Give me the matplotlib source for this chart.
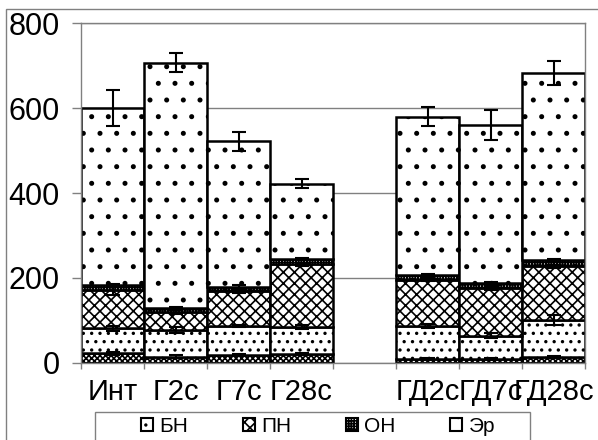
import numpy as np
import matplotlib
matplotlib.use("Agg")
import matplotlib.pyplot as plt
from matplotlib.patches import Patch, Rectangle

# Group labels; the empty slot separates the two series of groups
categories = ["Инт", "Г2с", "Г7с", "Г28с", "", "ГД2с", "ГД7с", "ГД28с"]
yticks = [0, 200, 400, 600, 800]

# Stacked layer heights (bottom to top) and their error bars
base_vals = [22, 14, 18, 20, np.nan, 9, 9, 13]
base_err = [4, 3, 3, 3, np.nan, 2, 2, 2]
bn_vals = [59, 63, 69, 65, np.nan, 78, 55, 87]
bn_err = [6, 6, 3, 5, np.nan, 5, 5, 12]
pn_vals = [90, 43, 82, 147, np.nan, 109, 112, 127]
pn_err = [12, 5, 4, 4, np.nan, 4, 4, 4]
on_vals = [12, 8, 10, 12, np.nan, 10, 11, 14]
on_err = [3, 3, 3, 3, np.nan, 3, 3, 3]
er_vals = [417, 579, 343, 178, np.nan, 374, 373, 442]
er_err = [42, 22, 22, 10, np.nan, 22, 35, 29]

layers = [
    (base_vals, base_err, "xxxxxx", None),
    (bn_vals, bn_err, "..", "БН"),
    (pn_vals, pn_err, "xxx", "ПН"),
    (on_vals, on_err, "++++++", "ОН"),
    (er_vals, er_err, ".", "Эр"),
]

plt.rcParams["font.family"] = ["Liberation Sans", "DejaVu Sans"]
plt.rcParams["hatch.linewidth"] = 1.2

W, H = 598, 440
GRAY = "#808080"

fig = plt.figure(figsize=(W / 100, H / 100), dpi=100)
ax = fig.add_axes([81 / W, 1 - 362.7 / H, (585 - 81) / W, (362.7 - 23.3) / H])

x = np.arange(len(categories))
bottom = np.zeros(len(categories))
handles = []
for vals, errs, hatch, label in layers:
    vals = np.array(vals, dtype=float)
    ax.bar(x, vals, width=1.0, bottom=bottom, color="white", edgecolor="black",
           linewidth=1.8, hatch=hatch, zorder=2)
    top = bottom + vals
    ax.errorbar(x, top, yerr=errs, fmt="none", ecolor="black", elinewidth=1.5,
                capsize=5, capthick=1.5, zorder=3)
    bottom = top
    if label:
        handles.append(Patch(facecolor="white", edgecolor="black", linewidth=1.5,
                             hatch=hatch, label=label))

ax.set_xlim(-0.5, len(categories) - 0.5)
ax.set_ylim(0, 800)
ax.set_yticks(yticks)
ax.yaxis.grid(True, color=GRAY, linewidth=1)
ax.set_axisbelow(True)

ax.set_xticks(x)
ax.set_xticklabels(categories)
ax.set_xticks(np.arange(len(categories) + 1) - 0.5, minor=True)
ax.tick_params(axis="x", which="major", length=0, pad=11, labelsize=21)
ax.tick_params(axis="x", which="minor", length=4.5, color=GRAY, width=1)
ax.tick_params(axis="y", length=6.5, color=GRAY, width=1, pad=9, labelsize=22)

for spine in ax.spines.values():
    spine.set_color(GRAY)
    spine.set_linewidth(1)

# chart frame and legend box
fig.add_artist(Rectangle((6 / W, -0.05), 1.1, 1 - 9 / H + 0.05, transform=fig.transFigure,
                         fill=False, edgecolor=GRAY, linewidth=1))
fig.add_artist(Rectangle((95 / W, (H - 446) / H), 435 / W, 34 / H, transform=fig.transFigure,
                         fill=False, edgecolor=GRAY, linewidth=1))
fig.legend(handles=handles, ncol=4, loc="center", bbox_to_anchor=(318 / W, 1 - 426 / H),
           frameon=False, fontsize=15, handlelength=0.6, handleheight=0.6,
           handletextpad=0.3, columnspacing=2.6)

fig.savefig("out.png", dpi=100)
